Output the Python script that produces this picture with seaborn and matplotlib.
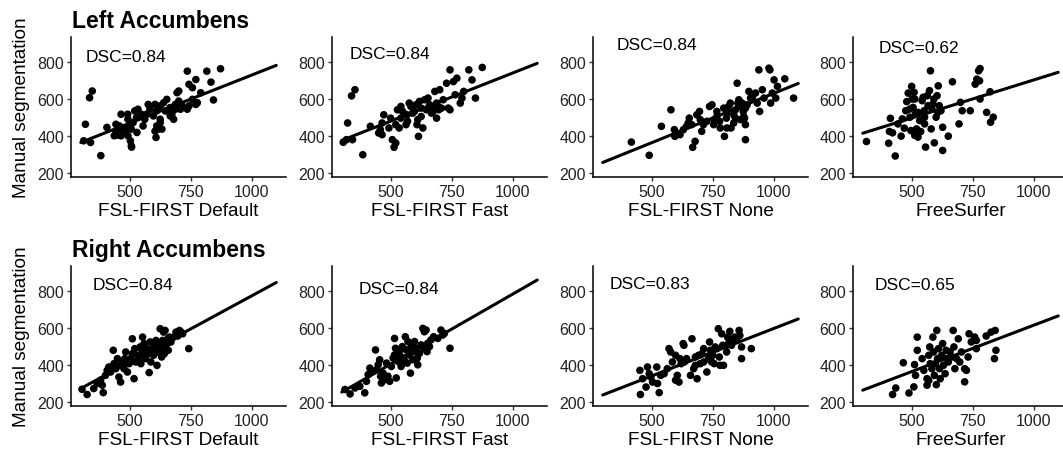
import pandas as pd
import matplotlib
matplotlib.use("Agg")
import matplotlib.pyplot as plt
import seaborn as sns

# values (automated volume vs manual volume, mm3)
regions = ["Left Accumbens", "Right Accumbens"]
methods = ["FSL-FIRST Default", "FSL-FIRST Fast", "FSL-FIRST None", "FreeSurfer"]
dsc = [[0.84, 0.84, 0.84, 0.62],
       [0.84, 0.84, 0.83, 0.65]]

left_default_x = [319, 336, 347, 312, 340, 382, 407, 444, 451, 444, 455, 465, 437, 472, 465, 493, 500, 507, 503, 493,
                  521, 528, 534, 530, 555, 569, 576, 604, 611, 611, 608, 618, 625, 632, 639, 652, 659, 666, 673, 680,
                  687, 694, 701, 687, 701, 708, 715, 736, 743, 757, 771, 736, 743, 757, 771, 777, 791, 816, 833, 843,
                  872, 583, 597, 625, 646, 666, 604, 625, 562, 548, 486, 507, 514, 458, 492, 508]
left_default_y = [462, 605, 641, 373, 364, 293, 445, 462, 436, 418, 403, 400, 400, 427, 516, 489, 453, 346, 373, 400,
                  534, 498, 543, 418, 453, 516, 569, 569, 534, 453, 391, 436, 561, 436, 578, 596, 534, 507, 516, 489,
                  569, 632, 641, 543, 587, 543, 561, 748, 677, 659, 703, 543, 561, 596, 569, 578, 632, 748, 689, 593,
                  761, 543, 507, 489, 534, 552, 425, 471, 489, 516, 436, 436, 471, 453, 516, 339]

left_fast_x = [306, 324, 319, 344, 340, 354, 386, 417, 458, 465, 451, 472, 465, 493, 500, 507, 514, 521, 528, 535,
               542, 549, 563, 567, 576, 590, 604, 611, 614, 608, 618, 625, 632, 639, 646, 653, 660, 667, 674, 681,
               688, 694, 688, 701, 697, 708, 715, 729, 736, 743, 743, 757, 764, 771, 785, 792, 799, 820, 833, 847,
               875, 583, 597, 625, 653, 681, 542, 569, 521]
left_fast_y = [365, 469, 379, 379, 615, 648, 298, 451, 433, 406, 415, 513, 469, 442, 495, 379, 338, 361, 540, 442,
               495, 531, 460, 513, 576, 522, 567, 487, 397, 460, 585, 549, 442, 594, 540, 603, 567, 522, 531, 639,
               495, 558, 576, 648, 540, 549, 594, 683, 549, 755, 540, 692, 621, 710, 576, 603, 639, 755, 701, 603,
               768, 558, 531, 504, 549, 549, 558, 478, 460]

left_none_x = [417, 490, 540, 579, 593, 602, 595, 616, 630, 643, 654, 650, 664, 668, 678, 685, 696, 705, 712, 737,
               747, 754, 756, 767, 778, 795, 798, 806, 808, 815, 822, 825, 836, 843, 850, 853, 857, 864, 870, 875,
               877, 880, 884, 884, 891, 898, 905, 912, 925, 932, 939, 942, 953, 960, 980, 984, 987, 994, 1001, 1008,
               1015, 1045, 1081, 836, 808, 781, 767, 726, 699, 843, 864, 884]
left_none_y = [366, 295, 451, 540, 433, 415, 397, 406, 433, 451, 495, 469, 460, 338, 370, 513, 531, 424, 460, 558,
               567, 460, 487, 504, 478, 549, 397, 495, 522, 558, 576, 442, 513, 540, 683, 576, 594, 558, 576, 531,
               504, 495, 379, 549, 567, 639, 603, 603, 630, 576, 755, 531, 648, 603, 764, 755, 576, 630, 701, 603,
               666, 707, 603, 469, 442, 442, 531, 478, 487, 495, 487, 460]

left_fs_x = [315, 406, 433, 413, 409, 422, 444, 457, 462, 470, 476, 480, 486, 493, 497, 500, 502, 510, 506, 513,
             516, 520, 526, 533, 537, 543, 547, 551, 553, 557, 564, 567, 573, 577, 580, 583, 587, 591, 593, 600,
             604, 607, 609, 613, 620, 627, 627, 650, 667, 694, 740, 700, 760, 767, 774, 780, 780, 807, 821, 823,
             834, 553, 526, 493, 513, 778, 707]
left_fs_y = [369, 360, 291, 494, 423, 416, 464, 398, 491, 441, 535, 584, 630, 500, 428, 666, 598, 634, 553, 402,
             518, 437, 393, 482, 423, 589, 607, 535, 500, 339, 616, 562, 643, 750, 437, 544, 571, 598, 362, 500,
             616, 526, 669, 562, 535, 321, 446, 398, 691, 464, 535, 580, 678, 705, 750, 762, 598, 526, 637, 473,
             500, 464, 526, 544, 598, 696, 535]

right_default_x = [326, 392, 305, 353, 367, 381, 388, 401, 408, 415, 422, 433, 436, 443, 450, 456, 463, 461, 470, 477,
                   480, 484, 491, 498, 504, 511, 511, 518, 521, 525, 532, 539, 543, 546, 553, 557, 559, 566, 570, 576,
                   580, 584, 587, 594, 598, 601, 608, 612, 614, 621, 625, 628, 631, 635, 639, 642, 645, 649, 653, 656,
                   658, 663, 669, 680, 690, 697, 704, 711, 717, 742, 546, 614, 635]
right_default_y = [240, 250, 268, 272, 299, 317, 290, 343, 370, 388, 361, 478, 406, 379, 433, 334, 307, 397, 415, 379,
                   433, 469, 361, 406, 433, 540, 460, 325, 487, 415, 451, 442, 496, 406, 549, 469, 514, 433, 487, 460,
                   358, 523, 415, 487, 451, 505, 531, 397, 469, 478, 594, 514, 442, 496, 576, 460, 585, 487, 514, 540,
                   478, 549, 523, 549, 576, 555, 585, 576, 567, 487, 487, 505, 531]

right_fast_x = [334, 313, 354, 374, 394, 401, 408, 415, 422, 438, 442, 449, 455, 459, 462, 469, 476, 483, 489, 496,
                503, 510, 516, 520, 523, 530, 537, 543, 548, 554, 560, 564, 568, 571, 577, 581, 584, 591, 595, 598,
                604, 609, 611, 618, 625, 632, 636, 638, 645, 649, 652, 659, 665, 676, 693, 706, 713, 720, 743, 516,
                557, 537]
right_fast_y = [243, 267, 275, 284, 249, 311, 347, 382, 364, 480, 373, 400, 427, 338, 302, 355, 320, 409, 338, 311,
                391, 436, 542, 489, 329, 418, 453, 391, 498, 436, 551, 480, 409, 525, 453, 355, 498, 427, 471, 525,
                489, 436, 400, 462, 507, 596, 489, 578, 587, 471, 516, 498, 534, 551, 542, 587, 560, 569, 489, 453,
                418, 480]

right_none_x = [454, 452, 483, 463, 477, 490, 497, 504, 521, 524, 531, 537, 551, 564, 571, 578, 585, 598, 598, 605,
                612, 616, 621, 629, 632, 634, 643, 659, 665, 672, 679, 686, 679, 692, 699, 706, 713, 726, 733, 737,
                740, 746, 750, 756, 760, 767, 773, 777, 780, 787, 791, 794, 807, 811, 818, 820, 827, 834, 841, 848,
                858, 861, 868, 868, 908, 713, 807]
right_none_y = [240, 370, 388, 325, 280, 352, 334, 307, 388, 299, 250, 343, 352, 379, 487, 469, 415, 451, 317, 343,
                307, 433, 406, 514, 505, 415, 433, 343, 540, 379, 397, 325, 442, 451, 406, 460, 415, 361, 433, 523,
                478, 415, 451, 406, 496, 487, 594, 442, 397, 567, 505, 397, 469, 549, 531, 580, 505, 540, 549, 531,
                585, 558, 433, 496, 487, 487, 505]

right_fs_x = [422, 435, 489, 466, 512, 509, 516, 523, 523, 543, 550, 563, 570, 574, 576, 583, 587, 590, 593, 597,
              601, 603, 606, 610, 614, 617, 623, 627, 630, 637, 641, 644, 650, 657, 664, 670, 673, 677, 684, 691,
              697, 704, 717, 724, 717, 731, 735, 744, 758, 765, 765, 805, 825, 842, 839, 845, 563, 570]
right_fs_y = [240, 275, 248, 411, 401, 281, 343, 549, 478, 433, 370, 325, 451, 496, 406, 379, 549, 469, 343, 406,
              293, 585, 433, 487, 379, 325, 451, 514, 397, 352, 478, 433, 415, 469, 442, 585, 496, 379, 433, 540,
              415, 469, 379, 370, 308, 442, 567, 523, 549, 487, 531, 555, 576, 585, 433, 478, 290, 316]

series = [[(left_default_x, left_default_y), (left_fast_x, left_fast_y),
           (left_none_x, left_none_y), (left_fs_x, left_fs_y)],
          [(right_default_x, right_default_y), (right_fast_x, right_fast_y),
           (right_none_x, right_none_y), (right_fs_x, right_fs_y)]]

# where the DSC label sits in each panel (data coords)
dsc_pos = [[(483, 828), (496, 841), (522, 889), (529, 875)],
           [(514, 832), (533, 809), (493, 836), (512, 832)]]

sns.set_theme(style="ticks")
plt.rcParams['font.family'] = ['Liberation Sans', 'DejaVu Sans']

W, H = 1063, 456
fig = plt.figure(figsize=(W / 100, H / 100), dpi=100)

lefts = [71, 332, 593, 853]
row_bottoms = [178, 407]
row_titles_baseline = [28, 257]

for r in range(2):
    fig.text(72 / W, 1 - row_titles_baseline[r] / H, regions[r], fontsize=16.5,
             fontweight="bold", ha="left", va="baseline", color="black")
    for c in range(4):
        ax = fig.add_axes([lefts[c] / W, 1 - row_bottoms[r] / H, 215 / W, 140 / H])
        xs, ys = series[r][c]
        df = pd.DataFrame({"auto": xs, "manual": ys})

        sns.scatterplot(data=df, x="auto", y="manual", ax=ax, color="black",
                        s=30, edgecolor="none", linewidth=0)
        # fit line drawn over 300-1100, like the original
        ax.set_xlim(300, 1100)
        sns.regplot(data=df, x="auto", y="manual", ax=ax, scatter=False, ci=None,
                    truncate=False, line_kws={"color": "black", "lw": 2.2})

        ax.set_xlim(260, 1140)
        ax.set_ylim(178, 932)
        ax.set_xticks([500, 750, 1000])
        ax.set_yticks([200, 400, 600, 800])
        ax.text(dsc_pos[r][c][0], dsc_pos[r][c][1], "DSC=%.2f" % dsc[r][c],
                fontsize=12.5, ha="center", va="center", color="black")

        ax.set_xlabel(methods[c], fontsize=13.7, color="black", labelpad=2)
        if c == 0:
            ax.set_ylabel("Manual segmentation", fontsize=13.7, color="black", labelpad=5)
        else:
            ax.set_ylabel("")

        for side in ["top", "right"]:
            ax.spines[side].set_visible(False)
        for side in ["left", "bottom"]:
            ax.spines[side].set_linewidth(1.1)
            ax.spines[side].set_color("black")
        ax.tick_params(axis="both", labelsize=11.5, labelcolor="#222222",
                       length=3, width=1, color="#333333", pad=2)
        ax.set_facecolor("white")

fig.savefig("out.png", dpi=100, facecolor="white")
